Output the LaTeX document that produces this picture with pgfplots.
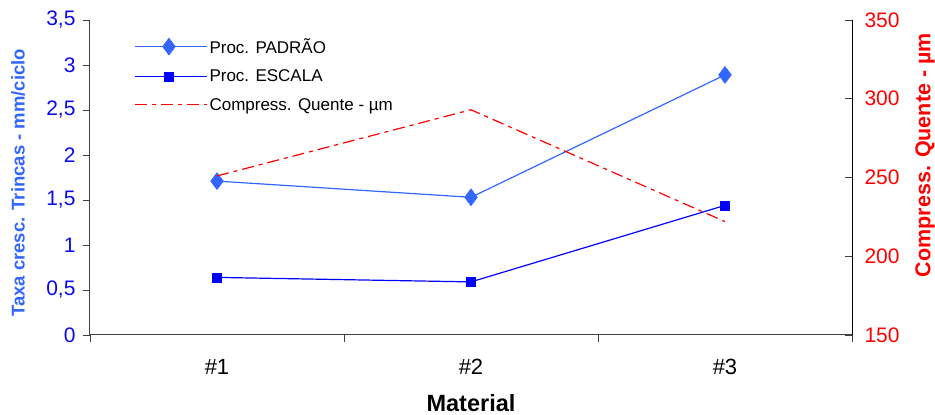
\documentclass[border=0pt]{standalone}
\usepackage{fontspec}
\setmainfont{Liberation Sans}
\usepackage{pgfplots}
\pgfplotsset{compat=1.18}
\definecolor{lblue}{HTML}{3366FF}
\definecolor{dblue}{HTML}{0000FF}
\definecolor{tblue}{HTML}{0A0AEE}
\definecolor{axgray}{HTML}{404040}
\begin{document}
\begin{tikzpicture}[font=\fontsize{20}{24}\selectfont]
\useasboundingbox (-90pt,-80pt) rectangle (845pt,335pt);
\pgfplotsset{
  myline/.style={legend image code/.code={
    \draw[mark repeat=2,mark phase=2,##1] plot coordinates {(0pt,0pt) (34pt,0pt) (68pt,0pt)};
    \path (0pt,0pt) -- (72pt,0pt);}},
}
\begin{axis}[
  scale only axis, width=762pt, height=315pt,
  xmin=0.5, xmax=3.5, ymin=0, ymax=3.5,
  axis x line*=bottom, axis y line*=left,
  axis line style={axgray, line width=1pt},
  xtick={1,2,3}, xticklabels={\#1,\#2,\#3},
  major x tick style={draw=none},
  minor xtick={0.5,1.5,2.5,3.5},
  ytick={0,0.5,1,1.5,2,2.5,3,3.5},
  tick align=outside,
  tick style={axgray, line width=0.8pt},
  major tick length=7pt, minor tick length=7pt,
  /pgf/number format/assume math mode=true,
  y tick label style={/pgf/number format/use comma, tblue, font=\fontsize{21}{24}\selectfont, xshift=-4pt},
  x tick label style={font=\fontsize{22}{25}\selectfont, yshift=-14pt},
  xlabel={Material},
  xlabel style={font=\fontsize{23.5}{26}\selectfont\bfseries, at={(rel axis cs:0.5,0)}, anchor=center, yshift=-68pt},
  ylabel={Taxa cresc. Trincas - mm/ciclo},
  ylabel style={font=\fontsize{18.5}{22}\selectfont\bfseries, lblue, at={(rel axis cs:0,0.483)}, anchor=center, yshift=72pt},
  legend style={at={(0.054,0.955)}, anchor=north west, draw=none, fill=none,
    row sep=11pt, font=\fontsize{17}{20}\selectfont},
  legend cell align=left,
  clip=false,
]
\addplot[myline, lblue, line width=1.2pt, mark=diamond*, mark size=8.5pt,
  mark options={fill=lblue, draw=lblue, line width=0.5pt}]
  coordinates {(1,1.71) (2,1.53) (3,2.89)};
\addlegendentry{Proc. PADRÃO}
\addplot[myline, dblue, line width=1.2pt, mark=square*, mark size=4.6pt,
  mark options={fill=dblue, draw=dblue, line width=0.5pt}]
  coordinates {(1,0.64) (2,0.59) (3,1.44)};
\addlegendentry{Proc. ESCALA}
\addlegendimage{myline, color=red, draw=red, line width=1.2pt, dash pattern=on 12pt off 5pt on 4pt off 5pt}
\addlegendentry{Compress. Quente - µm}
\end{axis}
\begin{axis}[
  scale only axis, width=762pt, height=315pt,
  xmin=0.5, xmax=3.5, ymin=150, ymax=350,
  axis x line=none, axis y line*=right,
  axis line style={black, line width=1pt},
  ytick={150,200,250,300,350},
  tick align=inside,
  tick style={axgray, line width=0.8pt},
  major tick length=7pt,
  /pgf/number format/assume math mode=true,
  y tick label style={red, xshift=9pt, font=\fontsize{21}{24}\selectfont},
  ylabel={Compress. Quente - µm},
  ylabel style={font=\fontsize{21.5}{24}\selectfont\bfseries, red, at={(rel axis cs:1,0.571)}, anchor=center, yshift=-73pt},
  clip=false,
]
\addplot[red, line width=1.2pt, dash pattern=on 12pt off 5pt on 4pt off 5pt]
  coordinates {(1,251) (2,293) (3,222)};
\end{axis}
\end{tikzpicture}
\end{document}
